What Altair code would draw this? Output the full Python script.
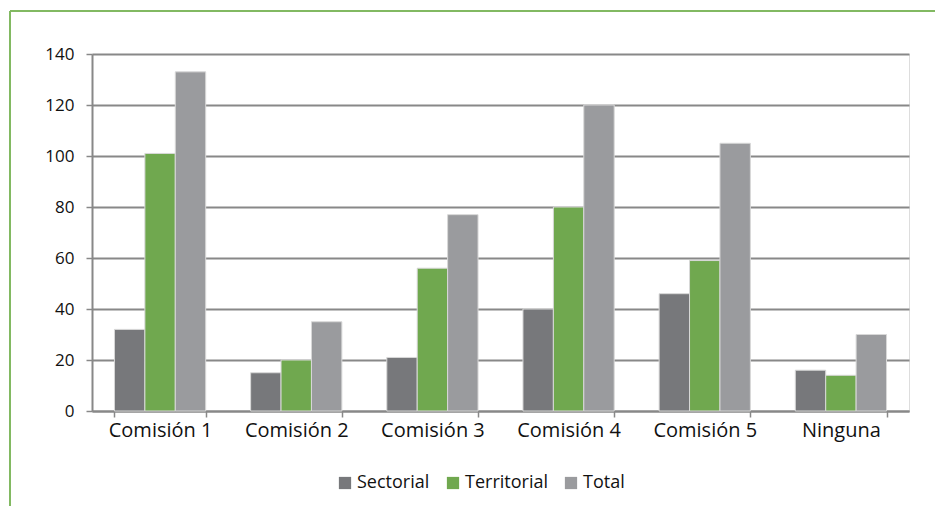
import altair as alt
import pandas as pd

categories = ["Comisión 1", "Comisión 2", "Comisión 3", "Comisión 4", "Comisión 5", "Ninguna"]
series = ["Sectorial", "Territorial", "Total"]
sectorial = [32, 15, 21, 40, 46, 16]
territorial = [101, 20, 56, 80, 59, 14]
total = [133, 35, 77, 120, 105, 30]
colors = ["#77787b", "#70a84f", "#9a9b9e"]

rows = []
for i, c in enumerate(categories):
    for s, vals in zip(series, [sectorial, territorial, total]):
        rows.append({"cat": c, "serie": s, "valor": vals[i]})
df = pd.DataFrame(rows)

W, H = 817, 357
PAD_R, PAD_B = 26, 95
FONT = "Open Sans"
FRAME = "#82b962"

bars = alt.Chart(df).mark_bar(stroke="#d8d8d8", strokeWidth=1).encode(
    x=alt.X("cat:N", sort=categories, title=None,
            scale=alt.Scale(paddingInner=0.33, paddingOuter=0.165),
            axis=alt.Axis(labelAngle=0, labelFontSize=20, labelFont=FONT, labelColor="#111",
                          tickBand="extent", tickSize=6, tickColor="#888", tickWidth=1.5,
                          domainColor="#888", domainWidth=2, labelPadding=3, grid=False,
                          gridOpacity=0)),
    xOffset=alt.XOffset("serie:N", sort=series, scale=alt.Scale(paddingInner=0, paddingOuter=0)),
    y=alt.Y("valor:Q", title=None,
            scale=alt.Scale(domain=[0, 140], nice=False),
            axis=alt.Axis(values=[0, 20, 40, 60, 80, 100, 120, 140], labelFontSize=17, labelFont=FONT,
                          labelColor="#111", tickSize=6, tickColor="#888", tickWidth=1.5,
                          domainColor="#888", domainWidth=2, gridColor="#888", gridWidth=2,
                          labelPadding=12)),
    color=alt.Color("serie:N", sort=series,
                    scale=alt.Scale(domain=series, range=colors),
                    legend=alt.Legend(title=None, orient="none", direction="horizontal",
                                      legendX=244, legendY=420, symbolType="square",
                                      symbolSize=150, symbolStrokeWidth=0, labelFontSize=18,
                                      labelFont=FONT, labelColor="#111", columnPadding=14,
                                      labelOffset=3)),
)

one = pd.DataFrame({"a": [0]})
top_line = alt.Chart(one).mark_rule(color=FRAME, strokeWidth=2, clip=False).encode(
    x=alt.value(-82), x2=alt.value(W + PAD_R), y=alt.value(-43)
)
left_line = alt.Chart(one).mark_rule(color=FRAME, strokeWidth=2, clip=False).encode(
    x=alt.value(-82), y=alt.value(-43), y2=alt.value(H + PAD_B)
)

chart = alt.layer(top_line, left_line, bars).properties(
    width=W, height=H,
    autosize=alt.AutoSizeParams(type="none"),
    padding={"left": 84, "top": 46, "right": PAD_R, "bottom": PAD_B},
).configure_view(stroke="transparent", strokeWidth=0).configure_axisX(
    grid=False, gridOpacity=0
).configure(background="white")

chart.save("out.html", embed_options={"renderer": "svg", "actions": False})
